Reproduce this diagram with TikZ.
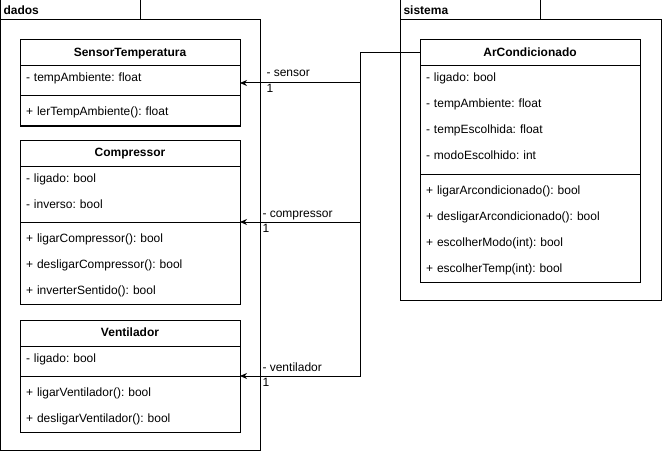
\documentclass[tikz,border=0pt]{standalone}
\usepackage{fontspec}
\setmainfont{Liberation Sans}
\usetikzlibrary{positioning,arrows.meta}
\frenchspacing

\begin{document}
\begin{tikzpicture}[x=1pt,y=-1pt,line width=1pt,>={Stealth[length=7pt,width=6pt]},node distance=26pt,
  package/.style={draw,fill=white,rectangle,anchor=north west,inner sep=0pt,outer sep=0pt},
  package name/.style={anchor=west,inner sep=0pt,text height=9pt,text depth=3pt,font=\fontsize{12}{14}\selectfont\bfseries},
  class box/.style={draw,fill=white,rectangle,anchor=north west,inner sep=0pt,outer sep=0pt,minimum width=220pt},
  class name/.style={anchor=north,inner sep=0pt,outer sep=0pt,minimum width=220pt,minimum height=26pt,text height=9pt,text depth=2pt,font=\fontsize{12}{14}\selectfont\bfseries},
  member/.style={text width=208pt,align=left,inner sep=0pt,text height=9pt,text depth=3pt,font=\fontsize{12}{14}\selectfont},
  role/.style={anchor=west,inner sep=0pt,text height=9pt,text depth=3pt,font=\fontsize{12}{14}\selectfont}]
                    \fill[white] (0,0) rectangle (662,452);
                    \useasboundingbox (0,0) rectangle (662,452);

                    % packages
                    \node[package,minimum width=140pt,minimum height=20pt] (dadostab) at (0,0) {};
                    \node[package,minimum width=260pt,minimum height=430pt] (dados) at (0,20) {};
                    \node[package name] (dadosname) at (3,12) {dados};
                    \node[package,minimum width=140pt,minimum height=20pt] (sistematab) at (400,0) {};
                    \node[package,minimum width=261pt,minimum height=280pt] (sistema) at (400,20) {};
                    \node[package name] (sistemaname) at (403,12) {sistema};

                    % SensorTemperatura
                    \node[class box,minimum height=86pt] (sensor) at (20,40) {};
                    \node[class name] (sensorname) at (sensor.north) {SensorTemperatura};
                    \draw (sensorname.south west) -- (sensorname.south east);
                    \draw (20,96) -- (240,96);
                    \node[member] (sensortemp) at (130,79) {- tempAmbiente: float};
                    \node[member] (sensorler) at (130,113) {+ lerTempAmbiente(): float};

                    % Compressor
                    \node[class box,minimum height=164pt] (compressor) at (20,140) {};
                    \node[class name] (compressorname) at (compressor.north) {Compressor};
                    \draw (compressorname.south west) -- (compressorname.south east);
                    \draw (20,222) -- (240,222);
                    \node[member] (compligado) at (130,179) {- ligado: bool};
                    \node[member] (compinverso) [below of=compligado] {- inverso: bool};
                    \node[member] (compligar) at (130,239) {+ ligarCompressor(): bool};
                    \node[member] (compdesligar) [below of=compligar] {+ desligarCompressor(): bool};
                    \node[member] (compinverter) [below of=compdesligar] {+ inverterSentido(): bool};

                    % Ventilador
                    \node[class box,minimum height=112pt] (ventilador) at (20,320) {};
                    \node[class name] (ventiladorname) at (ventilador.north) {Ventilador};
                    \draw (ventiladorname.south west) -- (ventiladorname.south east);
                    \draw (20,376) -- (240,376);
                    \node[member] (ventligado) at (130,359) {- ligado: bool};
                    \node[member] (ventligar) at (130,393) {+ ligarVentilador(): bool};
                    \node[member] (ventdesligar) [below of=ventligar] {+ desligarVentilador(): bool};

                    % ArCondicionado
                    \node[class box,minimum height=242pt] (ar) at (420,40) {};
                    \node[class name] (arname) at (ar.north) {ArCondicionado};
                    \draw (arname.south west) -- (arname.south east);
                    \draw (420,174) -- (640,174);
                    \node[member] (arligado) at (530,79) {- ligado: bool};
                    \node[member] (artemp) [below of=arligado] {- tempAmbiente: float};
                    \node[member] (arescolhida) [below of=artemp] {- tempEscolhida: float};
                    \node[member] (armodo) [below of=arescolhida] {- modoEscolhido: int};
                    \node[member] (arligar) at (530,191) {+ ligarArcondicionado(): bool};
                    \node[member] (ardesligar) [below of=arligar] {+ desligarArcondicionado(): bool};
                    \node[member] (arescmodo) [below of=ardesligar] {+ escolherModo(int): bool};
                    \node[member] (aresctemp) [below of=arescmodo] {+ escolherTemp(int): bool};

                    % associations
                    \draw[->] (arname.west) -- ++(-60,0) |- (sensor.east);
                    \draw[->] (arname.west) -- ++(-60,0) |- (compressor.east);
                    \draw[->] (arname.west) -- ++(-60,0) |- (ventilador.east);

                    \node[role] (sensorrole) at ([xshift=26pt,yshift=9pt]sensor.east) {- sensor};
                    \node[role] (sensormult) at ([xshift=26pt,yshift=-7pt]sensor.east) {1};
                    \node[role] (compressorrole) at ([xshift=22pt,yshift=8pt]compressor.east) {- compressor};
                    \node[role] (compressormult) at ([xshift=22pt,yshift=-7pt]compressor.east) {1};
                    \node[role] (ventiladorrole) at ([xshift=22pt,yshift=8pt]ventilador.east) {- ventilador};
                    \node[role] (ventiladormult) at ([xshift=22pt,yshift=-7pt]ventilador.east) {1};
                \end{tikzpicture}
\end{document}
